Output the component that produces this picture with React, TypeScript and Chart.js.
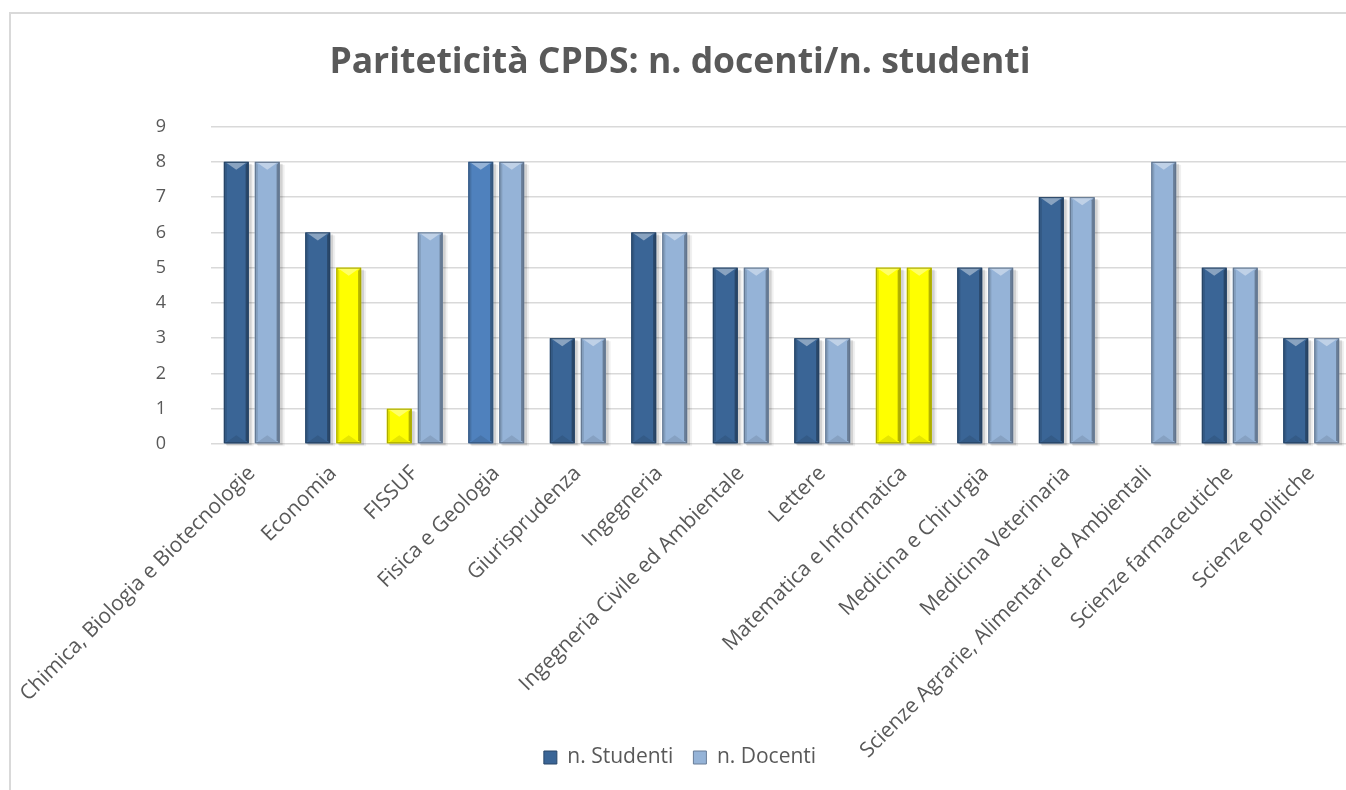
import { useEffect, useRef } from "react";
import { Chart, registerables } from "chart.js";

Chart.register(...registerables);

const categories = [
  "Chimica, Biologia e Biotecnologie",
  "Economia",
  "FISSUF",
  "Fisica e Geologia",
  "Giurisprudenza",
  "Ingegneria",
  "Ingegneria Civile ed Ambientale",
  "Lettere",
  "Matematica e Informatica",
  "Medicina e Chirurgia",
  "Medicina Veterinaria",
  "Scienze Agrarie, Alimentari ed Ambientali",
  "Scienze farmaceutiche",
  "Scienze politiche",
];

const studenti: (number | null)[] = [8, 6, 1, 8, 3, 6, 5, 3, 5, 5, 7, null, 5, 3];
const docenti: (number | null)[] = [8, 5, 6, 8, 3, 6, 5, 3, 5, 5, 7, 8, 5, 3];

const yMin = 0;
const yMax = 9;
const yStep = 1;

const titleText = "Pariteticità CPDS: n. docenti/n. studenti";
const seriesNames = ["n. Studenti", "n. Docenti"];

// styles
const DARK = "#3A6596";
const LIGHT = "#95B3D7";
const MID = "#4F81BD";
const YELLOW = "#FFFF00";
const studentiStyle = ["d", "d", "y", "m", "d", "d", "d", "d", "y", "d", "d", "d", "d", "d"];
const docentiStyle = ["l", "y", "l", "l", "l", "l", "l", "l", "y", "l", "l", "l", "l", "l"];
const styleMap: Record<string, string> = { d: DARK, l: LIGHT, m: MID, y: YELLOW };

const FONT = "'Open Sans', 'DejaVu Sans', sans-serif";
const TEXT = "#595959";
const LEGEND_TOP = 727;

function hexToRgb(h: string) {
  const n = parseInt(h.slice(1), 16);
  return [(n >> 16) & 255, (n >> 8) & 255, n & 255];
}
function mix(h: string, target: number, amt: number) {
  const [r, g, b] = hexToRgb(h);
  const f = (c: number) => Math.round(c + (target - c) * amt);
  return `rgb(${f(r)},${f(g)},${f(b)})`;
}

const framePlugin = {
  id: "frame",
  beforeDraw(chart: any) {
    const ctx = chart.ctx;
    ctx.save();
    ctx.fillStyle = "#FFFFFF";
    ctx.fillRect(0, 0, chart.width, chart.height);
    ctx.strokeStyle = "#D9D9D9";
    ctx.lineWidth = 2;
    ctx.strokeRect(10, 13, 1352, 840);
    ctx.restore();
  },
};

const legendMovePlugin = {
  id: "legendMove",
  afterLayout(chart: any) {
    const lg = chart.legend;
    if (!lg) return;
    const h = lg.bottom - lg.top;
    lg.top = LEGEND_TOP;
    lg.bottom = LEGEND_TOP + h;
  },
};

const bevelPlugin = {
  id: "bevel",
  beforeDatasetsDraw(chart: any) {
    const ctx = chart.ctx;
    ctx.save();
    chart.data.datasets.forEach((ds: any, di: number) => {
      const meta = chart.getDatasetMeta(di);
      meta.data.forEach((el: any, i: number) => {
        if (ds.data[i] == null) return;
        const p = el.getProps(["x", "y", "base", "width"], true);
        const l = p.x - p.width / 2;
        const t = p.y;
        const h = p.base - p.y;
        ctx.fillStyle = "rgba(0,0,0,0.12)";
        ctx.fillRect(l + 2, t + 2, p.width + 1, h);
        ctx.fillStyle = "rgba(0,0,0,0.06)";
        ctx.fillRect(l + 3, t + 3, p.width + 2, h);
      });
    });
    ctx.restore();
  },
  afterDatasetsDraw(chart: any) {
    const ctx = chart.ctx;
    ctx.save();
    chart.data.datasets.forEach((ds: any, di: number) => {
      const meta = chart.getDatasetMeta(di);
      meta.data.forEach((el: any, i: number) => {
        if (ds.data[i] == null) return;
        const base = ds.backgroundColor[i];
        const p = el.getProps(["x", "y", "base", "width"], true);
        const l = p.x - p.width / 2;
        const r = p.x + p.width / 2;
        const t = p.y;
        const b = p.base;
        const cx = p.x;
        const s = 3;
        const tri = Math.min(8, (b - t) / 2);
        ctx.fillStyle = mix(base, 0, 0.12);
        ctx.beginPath();
        ctx.moveTo(l, t);
        ctx.lineTo(l + s, t + s);
        ctx.lineTo(l + s, b - s);
        ctx.lineTo(l, b);
        ctx.closePath();
        ctx.fill();
        ctx.fillStyle = mix(base, 0, 0.3);
        ctx.beginPath();
        ctx.moveTo(r, t);
        ctx.lineTo(r - s, t + s);
        ctx.lineTo(r - s, b - s);
        ctx.lineTo(r, b);
        ctx.closePath();
        ctx.fill();
        ctx.fillStyle = mix(base, 0, 0.1);
        ctx.beginPath();
        ctx.moveTo(l + 1, b);
        ctx.lineTo(r - 1, b);
        ctx.lineTo(cx, b - tri);
        ctx.closePath();
        ctx.fill();
        ctx.fillStyle = mix(base, 255, 0.4);
        ctx.beginPath();
        ctx.moveTo(l + 1, t);
        ctx.lineTo(r - 1, t);
        ctx.lineTo(cx, t + tri);
        ctx.closePath();
        ctx.fill();
        ctx.strokeStyle = mix(base, 0, 0.35);
        ctx.lineWidth = 1;
        ctx.strokeRect(l + 0.5, t + 0.5, p.width - 1, b - t - 1);
      });
    });
    ctx.restore();
  },
};

export default function App() {
  const ref = useRef<HTMLCanvasElement | null>(null);
  useEffect(() => {
    if (!ref.current) return;
    const chart = new Chart(ref.current, {
      type: "bar",
      data: {
        labels: categories,
        datasets: [
          {
            label: seriesNames[0],
            data: studenti,
            backgroundColor: studentiStyle.map((k) => styleMap[k]),
            borderWidth: 0,
          },
          {
            label: seriesNames[1],
            data: docenti,
            backgroundColor: docentiStyle.map((k) => styleMap[k]),
            borderWidth: 0,
          },
        ],
      },
      options: {
        responsive: false,
        animation: false,
        devicePixelRatio: 1,
        layout: { padding: { left: 8, right: 20, top: 12, bottom: 0 } },
        datasets: { bar: { categoryPercentage: 0.76, barPercentage: 0.8 } },
        plugins: {
          title: {
            display: true,
            text: titleText,
            color: TEXT,
            font: { family: FONT, size: 35.5, weight: "bold" },
            padding: { top: 30, bottom: 42 },
          },
          legend: {
            position: "bottom",
            labels: {
              color: TEXT,
              font: { family: FONT, size: 21 },
              boxWidth: 13,
              boxHeight: 13,
              padding: 20,
              generateLabels: (c: any) =>
                c.data.datasets.map((ds: any, i: number) => ({
                  text: ds.label,
                  fillStyle: i === 0 ? DARK : LIGHT,
                  strokeStyle: mix(i === 0 ? DARK : LIGHT, 0, 0.3),
                  lineWidth: 1,
                  fontColor: TEXT,
                  datasetIndex: i,
                  hidden: false,
                })),
            },
          },
          tooltip: { enabled: false },
        },
        scales: {
          x: {
            grid: { display: false },
            border: { display: false },
            ticks: {
              color: TEXT,
              font: { family: FONT, size: 21 },
              maxRotation: 45,
              minRotation: 45,
              autoSkip: false,
              padding: 9,
            },
            afterFit: (s: any) => {
              s.height = 365;
            },
          },
          y: {
            min: yMin,
            max: yMax,
            grid: { color: "#D9D9D9", lineWidth: 1.5, drawTicks: false },
            border: { display: false },
            ticks: {
              stepSize: yStep,
              color: TEXT,
              font: { family: FONT, size: 18 },
              padding: 45,
            },
            afterFit: (s: any) => {
              s.width = 203;
            },
          },
        },
      },
      plugins: [framePlugin, legendMovePlugin, bevelPlugin],
    });
    return () => chart.destroy();
  }, []);
  return (
    <div style={{ position: "fixed", left: 0, top: 0, width: "100vw", height: "100vh", overflow: "hidden", background: "#fff" }}>
      <canvas ref={ref} width={1372} height={860} style={{ position: "absolute", left: 0, top: 0, width: 1372, height: 860 }} />
    </div>
  );
}
